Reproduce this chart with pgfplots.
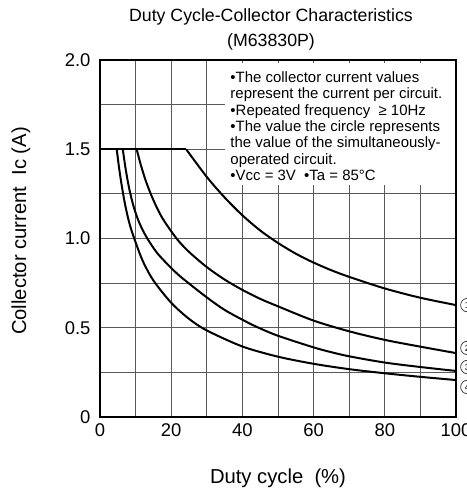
\documentclass[border=0pt]{standalone}
\usepackage{fontspec}
\setmainfont{Liberation Sans}
\usepackage{pgfplots}
\pgfplotsset{compat=1.18}
\tikzset{circ/.style={circle, draw=black!80, line width=0.7bp, minimum size=13.5bp, inner sep=0, font=\fontsize{9}{10}\selectfont}}
\begin{document}
\begin{tikzpicture}
\begin{axis}[
 scale only axis, width=356bp, height=357bp,
 xmin=0,xmax=100,ymin=0,ymax=2,
 xtick={0,20,...,100}, minor xtick={10,30,...,90},
 ytick={0,0.5,1,1.5,2}, yticklabels={0,0.5,1.0,1.5,2.0},
 minor ytick={0.25,0.75,1.25,1.75},
 grid=both, grid style={black!65, line width=0.8bp},
 major tick length=0, minor tick length=0,
 axis line style={line width=1.6bp},
 tick label style={font=\fontsize{18.5}{20}\selectfont},
 yticklabel style={xshift=-6bp},
 xticklabel style={yshift=-3bp},
 /pgf/number format/assume math mode=true,
 clip=false,
 xlabel={Duty cycle\ \ (\%)},
 ylabel={Collector current\ \ Ic (A)},
 label style={font=\fontsize{20.3}{22}\selectfont},
 xlabel style={at={(axis description cs:0.5,-0.171)},anchor=center},
 ylabel style={at={(axis description cs:-0.222,0.521)},anchor=center},
 title={Duty Cycle-Collector Characteristics\\(M63830P)},
 title style={at={(axis description cs:0.5,1.070)},xshift=-7bp,anchor=center,align=center,font=\fontsize{17.8}{25}\selectfont},
]
\fill[white] (axis cs:35.1,1.30) rectangle (axis cs:99.7,1.985);
\node[anchor=north west, align=left, font=\fontsize{15}{16.35}\selectfont, inner sep=0] at (axis cs:36.6,1.935)
 {•The collector current values\\
  represent the current per circuit.\\
  •Repeated frequency \ ≥ 10Hz\\
  •The value the circle represents\\
  the value of the simultaneously-\\
  operated circuit.\\
  •Vcc = 3V\ \ •Ta = 85°C};
% flat part
\addplot[black, line width=2bp] coordinates {(0,1.5) (24.2,1.5)};
% curve 1 (top)
\addplot[black, line width=2bp, smooth] coordinates {
 (24.2,1.5)(30,1.345)(35,1.23)(40,1.13)(45,1.045)(50,0.975)(55,0.915)(60,0.865)(65,0.822)(70,0.785)(80,0.72)(90,0.668)(100,0.627)};
% curve 2
\addplot[black, line width=2bp, smooth] coordinates {
 (10.3,1.5)(11.5,1.41)(13,1.315)(15,1.215)(17.5,1.115)(21.5,1.0)(25,0.925)(30,0.84)(35,0.77)(40,0.712)(45,0.662)(50,0.62)(60,0.54)(70,0.48)(80,0.432)(90,0.394)(100,0.358)};
% curve 3
\addplot[black, line width=2bp, smooth] coordinates {
 (6.4,1.5)(7.2,1.39)(8.2,1.28)(9.5,1.175)(11,1.09)(13,1.01)(16,0.92)(20,0.835)(23,0.78)(30,0.67)(35,0.6)(40,0.545)(44,0.505)(50,0.455)(60,0.39)(64.6,0.365)(70,0.34)(80,0.305)(90,0.28)(100,0.258)};
% curve 4 (bottom)
\addplot[black, line width=2bp, smooth] coordinates {
 (4.7,1.5)(5.4,1.39)(6.2,1.285)(7.2,1.175)(8.4,1.075)(9.8,0.99)(12,0.875)(15,0.765)(20,0.64)(25,0.55)(30,0.485)(40,0.395)(50,0.338)(60,0.298)(70,0.268)(80,0.245)(90,0.225)(100,0.207)};
\node[circ] at (axis cs:103.2,0.627) {1};
\node[circ] at (axis cs:103.2,0.387) {2};
\node[circ] at (axis cs:103.2,0.28) {3};
\node[circ] at (axis cs:103.2,0.168) {4};
\end{axis}
\pgfresetboundingbox
\path[use as bounding box] (-100bp,-71bp) rectangle (367bp,417bp);
\end{tikzpicture}
\end{document}
